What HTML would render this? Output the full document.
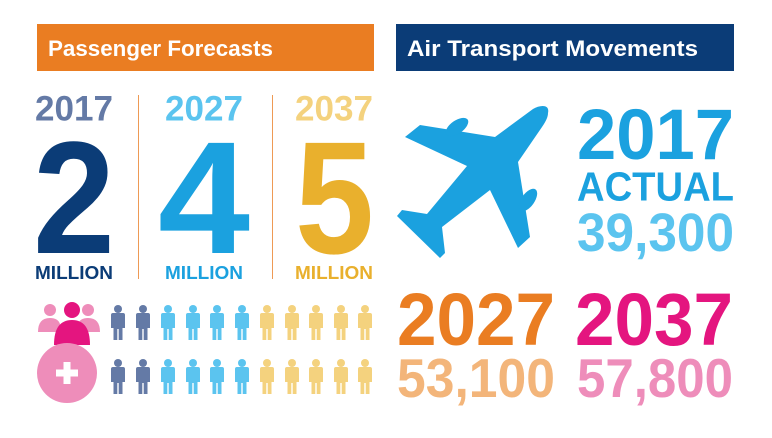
<!DOCTYPE html>
<html><head><meta charset="utf-8"><style>
html,body{margin:0;padding:0;background:#fff;}
svg{display:block;}
text{font-family:"Liberation Sans",Arial,sans-serif;font-weight:bold;}
</style></head><body>
<svg width="772" height="438" viewBox="0 0 772 438" xmlns="http://www.w3.org/2000/svg">
<defs>
<g id="p">
<circle cx="0" cy="-13" r="4"/>
<path d="M-7,-7 Q-7,-9 -5,-9 L5,-9 Q7,-9 7,-7 L7,6 L4.5,6 L4.5,18 L0.7,18 L0.7,7 L-0.7,7 L-0.7,18 L-4.5,18 L-4.5,6 L-7,6 Z"/>
</g>
</defs>
<rect x="37" y="24" width="337" height="47" fill="#ea7d22"/>
<text x="48" y="56" font-size="22" fill="#fff" textLength="225" lengthAdjust="spacingAndGlyphs">Passenger Forecasts</text>
<rect x="396" y="24" width="338" height="47" fill="#0b3c77"/>
<text x="407" y="56" font-size="22" fill="#fff" textLength="291" lengthAdjust="spacingAndGlyphs">Air Transport Movements</text>

<line x1="138.5" y1="95" x2="138.5" y2="279" stroke="#ee9a55" stroke-width="1"/>
<line x1="272.5" y1="95" x2="272.5" y2="279" stroke="#ee9a55" stroke-width="1"/>

<text x="35" y="120.5" font-size="35" fill="#647aa6" textLength="78" lengthAdjust="spacingAndGlyphs">2017</text>
<text x="165" y="120.5" font-size="35" fill="#5bc4ef" textLength="78" lengthAdjust="spacingAndGlyphs">2027</text>
<text x="295" y="120.5" font-size="35" fill="#f4d27e" textLength="78" lengthAdjust="spacingAndGlyphs">2037</text>

<text x="33" y="253" font-size="160" fill="#0b3c77" textLength="82" lengthAdjust="spacingAndGlyphs">2</text>
<text x="158" y="253" font-size="160" fill="#1ba1df" textLength="92" lengthAdjust="spacingAndGlyphs">4</text>
<text x="295" y="253" font-size="160" fill="#e9b02d" textLength="79" lengthAdjust="spacingAndGlyphs">5</text>

<text x="35" y="279" font-size="18" fill="#0b3c77" textLength="78" lengthAdjust="spacingAndGlyphs">MILLION</text>
<text x="165" y="279" font-size="18" fill="#1ba1df" textLength="78" lengthAdjust="spacingAndGlyphs">MILLION</text>
<text x="295" y="279" font-size="18" fill="#e9b02d" textLength="78" lengthAdjust="spacingAndGlyphs">MILLION</text>

<!-- plane -->
<g fill="#1ba1df">
<path d="M548,113 C550,104 540,105 533,109 L495,137 L420,125 L405,137 L467,166 L427,214 L402,210 L397,216 L440,258 L445,253 L442,227 L490,190 L518,248 L530,237 L518,162 L542,127 C546,121 548,117 548,113 Z"/>
<ellipse cx="457" cy="127" rx="13" ry="6.5" transform="rotate(-35 457 127)"/>
<ellipse cx="528" cy="200" rx="13" ry="6.5" transform="rotate(-55 528 200)"/>
</g>

<text x="577" y="159" font-size="71" fill="#1ba1df" textLength="157" lengthAdjust="spacingAndGlyphs">2017</text>
<text x="577" y="200.5" font-size="41" fill="#1ba1df" textLength="157" lengthAdjust="spacingAndGlyphs">ACTUAL</text>
<text x="577" y="251" font-size="54" fill="#5bc4ef" textLength="157" lengthAdjust="spacingAndGlyphs">39,300</text>

<text x="397" y="345" font-size="74" fill="#ea7d22" textLength="158" lengthAdjust="spacingAndGlyphs">2027</text>
<text x="397" y="397" font-size="55" fill="#f3b57a" textLength="158" lengthAdjust="spacingAndGlyphs">53,100</text>
<text x="575" y="345" font-size="74" fill="#e4157f" textLength="158" lengthAdjust="spacingAndGlyphs">2037</text>
<text x="577" y="397" font-size="55" fill="#ee8dba" textLength="156" lengthAdjust="spacingAndGlyphs">57,800</text>

<!-- people group icon -->
<g fill="#ee8dba">
<circle cx="50" cy="310" r="6"/>
<path d="M38,332 Q38,318 50,318 Q58,318 60,324 L60,332 Z"/>
<circle cx="88" cy="310" r="6"/>
<path d="M78,324 Q80,318 88,318 Q100,318 100,332 L78,332 Z"/>
</g>
<g fill="#e4157f">
<circle cx="72" cy="310" r="8"/>
<path d="M54,345 Q54,320 72,320 Q90,320 90,345 Z"/>
</g>
<circle cx="67" cy="373" r="30" fill="#ee8dba"/>
<rect x="63.5" y="362" width="7" height="22" fill="#fff"/>
<rect x="56" y="369.5" width="22" height="7" fill="#fff"/>

<g fill="#647aa6"><use href="#p" x="118" y="322"/><use href="#p" x="143" y="322"/><use href="#p" x="118" y="376"/><use href="#p" x="143" y="376"/></g>
<g fill="#5bc4ef"><use href="#p" x="168" y="322"/><use href="#p" x="193" y="322"/><use href="#p" x="217" y="322"/><use href="#p" x="242" y="322"/>
<use href="#p" x="168" y="376"/><use href="#p" x="193" y="376"/><use href="#p" x="217" y="376"/><use href="#p" x="242" y="376"/></g>
<g fill="#f4d27e"><use href="#p" x="267" y="322"/><use href="#p" x="292" y="322"/><use href="#p" x="316" y="322"/><use href="#p" x="341" y="322"/><use href="#p" x="365" y="322"/>
<use href="#p" x="267" y="376"/><use href="#p" x="292" y="376"/><use href="#p" x="316" y="376"/><use href="#p" x="341" y="376"/><use href="#p" x="365" y="376"/></g>
</svg>
</body></html>
